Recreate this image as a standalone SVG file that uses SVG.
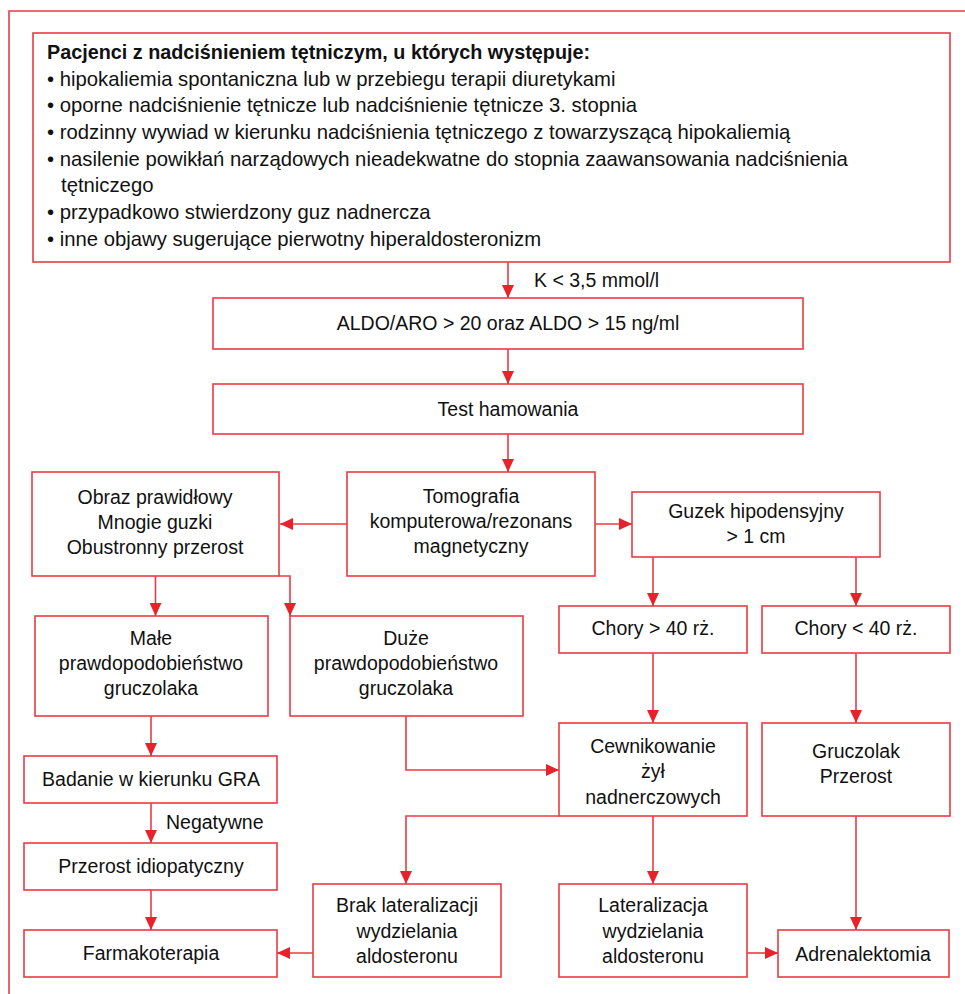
<svg xmlns="http://www.w3.org/2000/svg" width="965" height="994" viewBox="0 0 965 994">
<defs>
<marker id="ah" markerUnits="userSpaceOnUse" markerWidth="13" markerHeight="12" refX="13" refY="6" orient="auto">
<path d="M0,0 L13,6 L0,12 z" fill="#e8222b"/>
</marker>
<style>
.box{fill:#fff;stroke:#ec3a44;stroke-width:1.6}
.t{font-family:"Liberation Sans",Arial,sans-serif;font-size:19.5px;fill:#111;text-anchor:middle}
.tl{font-family:"Liberation Sans",Arial,sans-serif;font-size:19.5px;fill:#111}
.big{font-size:20.3px}
.b{font-weight:bold;font-size:19.8px}
.c{fill:none;stroke:#ec3a44;stroke-width:1.6;marker-end:url(#ah)}
</style>
</defs>
<rect width="965" height="994" fill="#fff"/>
<path d="M9,994 V11 H965" fill="none" stroke="#ec3a44" stroke-width="1.6"/>

<g id="n-criteria">
<rect class="box" x="33" y="33" width="917" height="229"/>
<text class="tl b" x="47" y="59">Pacjenci z nadciśnieniem tętniczym, u których występuje:</text>
<text class="tl big" x="47" y="86">• hipokaliemia spontaniczna lub w przebiegu terapii diuretykami</text>
<text class="tl big" x="47" y="112">• oporne nadciśnienie tętnicze lub nadciśnienie tętnicze 3. stopnia</text>
<text class="tl big" x="47" y="139">• rodzinny wywiad w kierunku nadciśnienia tętniczego z towarzyszącą hipokaliemią</text>
<text class="tl big" x="47" y="166">• nasilenie powikłań narządowych nieadekwatne do stopnia zaawansowania nadciśnienia</text>
<text class="tl big" x="61" y="192">tętniczego</text>
<text class="tl big" x="47" y="219">• przypadkowo stwierdzony guz nadnercza</text>
<text class="tl big" x="47" y="246">• inne objawy sugerujące pierwotny hiperaldosteronizm</text>
</g>

<g id="n-aldo">
<rect class="box" x="213" y="298" width="590" height="51"/>
<text class="t" x="508" y="330">ALDO/ARO &gt; 20 oraz ALDO &gt; 15 ng/ml</text>
</g>

<g id="n-test">
<rect class="box" x="213" y="384" width="590" height="50"/>
<text class="t" x="508" y="416">Test hamowania</text>
</g>

<g id="n-tomo">
<rect class="box" x="347" y="472" width="248" height="104"/>
<text class="t" x="471" y="503">Tomografia</text>
<text class="t" x="471" y="528">komputerowa/rezonans</text>
<text class="t" x="471" y="553">magnetyczny</text>
</g>

<g id="n-obraz">
<rect class="box" x="32" y="472" width="247" height="104"/>
<text class="t" x="155" y="504">Obraz prawidłowy</text>
<text class="t" x="155" y="529">Mnogie guzki</text>
<text class="t" x="155" y="554">Obustronny przerost</text>
</g>

<g id="n-guzek">
<rect class="box" x="632" y="492" width="248" height="65"/>
<text class="t" x="756" y="518">Guzek hipodensyjny</text>
<text class="t" x="756" y="543">&gt; 1 cm</text>
</g>

<g id="n-chory-gt">
<rect class="box" x="559" y="606" width="188" height="47"/>
<text class="t" x="653" y="635">Chory &gt; 40 rż.</text>
</g>

<g id="n-chory-lt">
<rect class="box" x="762" y="606" width="188" height="47"/>
<text class="t" x="856" y="635">Chory &lt; 40 rż.</text>
</g>

<g id="n-male">
<rect class="box" x="35" y="616" width="233" height="100"/>
<text class="t" x="151" y="645">Małe</text>
<text class="t" x="151" y="670">prawdopodobieństwo</text>
<text class="t" x="151" y="695">gruczolaka</text>
</g>

<g id="n-duze">
<rect class="box" x="290" y="616" width="233" height="100"/>
<text class="t" x="406" y="645">Duże</text>
<text class="t" x="406" y="670">prawdopodobieństwo</text>
<text class="t" x="406" y="695">gruczolaka</text>
</g>

<g id="n-badanie">
<rect class="box" x="24" y="756" width="253" height="47"/>
<text class="t" x="151" y="786">Badanie w kierunku GRA</text>
</g>

<g id="n-przerost">
<rect class="box" x="24" y="843" width="253" height="47"/>
<text class="t" x="151" y="873">Przerost idiopatyczny</text>
</g>

<g id="n-farm">
<rect class="box" x="24" y="930" width="253" height="47"/>
<text class="t" x="151" y="960">Farmakoterapia</text>
</g>

<g id="n-cewn">
<rect class="box" x="559" y="723" width="188" height="93"/>
<text class="t" x="653" y="753">Cewnikowanie</text>
<text class="t" x="653" y="778">żył</text>
<text class="t" x="653" y="804">nadnerczowych</text>
</g>

<g id="n-gruczolak">
<rect class="box" x="762" y="723" width="188" height="93"/>
<text class="t" x="856" y="758">Gruczolak</text>
<text class="t" x="856" y="783">Przerost</text>
</g>

<g id="n-brak">
<rect class="box" x="313" y="884" width="188" height="93"/>
<text class="t" x="407" y="912">Brak lateralizacji</text>
<text class="t" x="407" y="938">wydzielania</text>
<text class="t" x="407" y="963">aldosteronu</text>
</g>

<g id="n-lateral">
<rect class="box" x="559" y="884" width="188" height="93"/>
<text class="t" x="653" y="912">Lateralizacja</text>
<text class="t" x="653" y="938">wydzielania</text>
<text class="t" x="653" y="963">aldosteronu</text>
</g>

<g id="n-adrenal">
<rect class="box" x="778" y="930" width="171" height="47"/>
<text class="t" x="863" y="961">Adrenalektomia</text>
</g>

<g id="connectors">
<path class="c" d="M508,262 V298"/>
<path class="c" d="M508,349 V384"/>
<path class="c" d="M508,434 V472"/>
<path class="c" d="M347,524 H280"/>
<path class="c" d="M595,524 H632"/>
<path class="c" d="M653,557 V606"/>
<path class="c" d="M856,557 V606"/>
<path class="c" d="M155.5,576 V616"/>
<path class="c" d="M279,576 H290 V616"/>
<path class="c" d="M151,716 V756"/>
<path class="c" d="M151,803 V843"/>
<path class="c" d="M151,890 V930"/>
<path class="c" d="M406,716 V770 H559"/>
<path class="c" d="M653,653 V723"/>
<path class="c" d="M856,653 V723"/>
<path class="c" d="M653,816 V884"/>
<path class="c" d="M559,816 H406 V884"/>
<path class="c" d="M313,953 H277"/>
<path class="c" d="M747,953 H778"/>
<path class="c" d="M856,816 V930"/>
<text class="tl" x="534" y="287">K &lt; 3,5 mmol/l</text>
<text class="tl" x="166" y="829">Negatywne</text>
</g>
</svg>
